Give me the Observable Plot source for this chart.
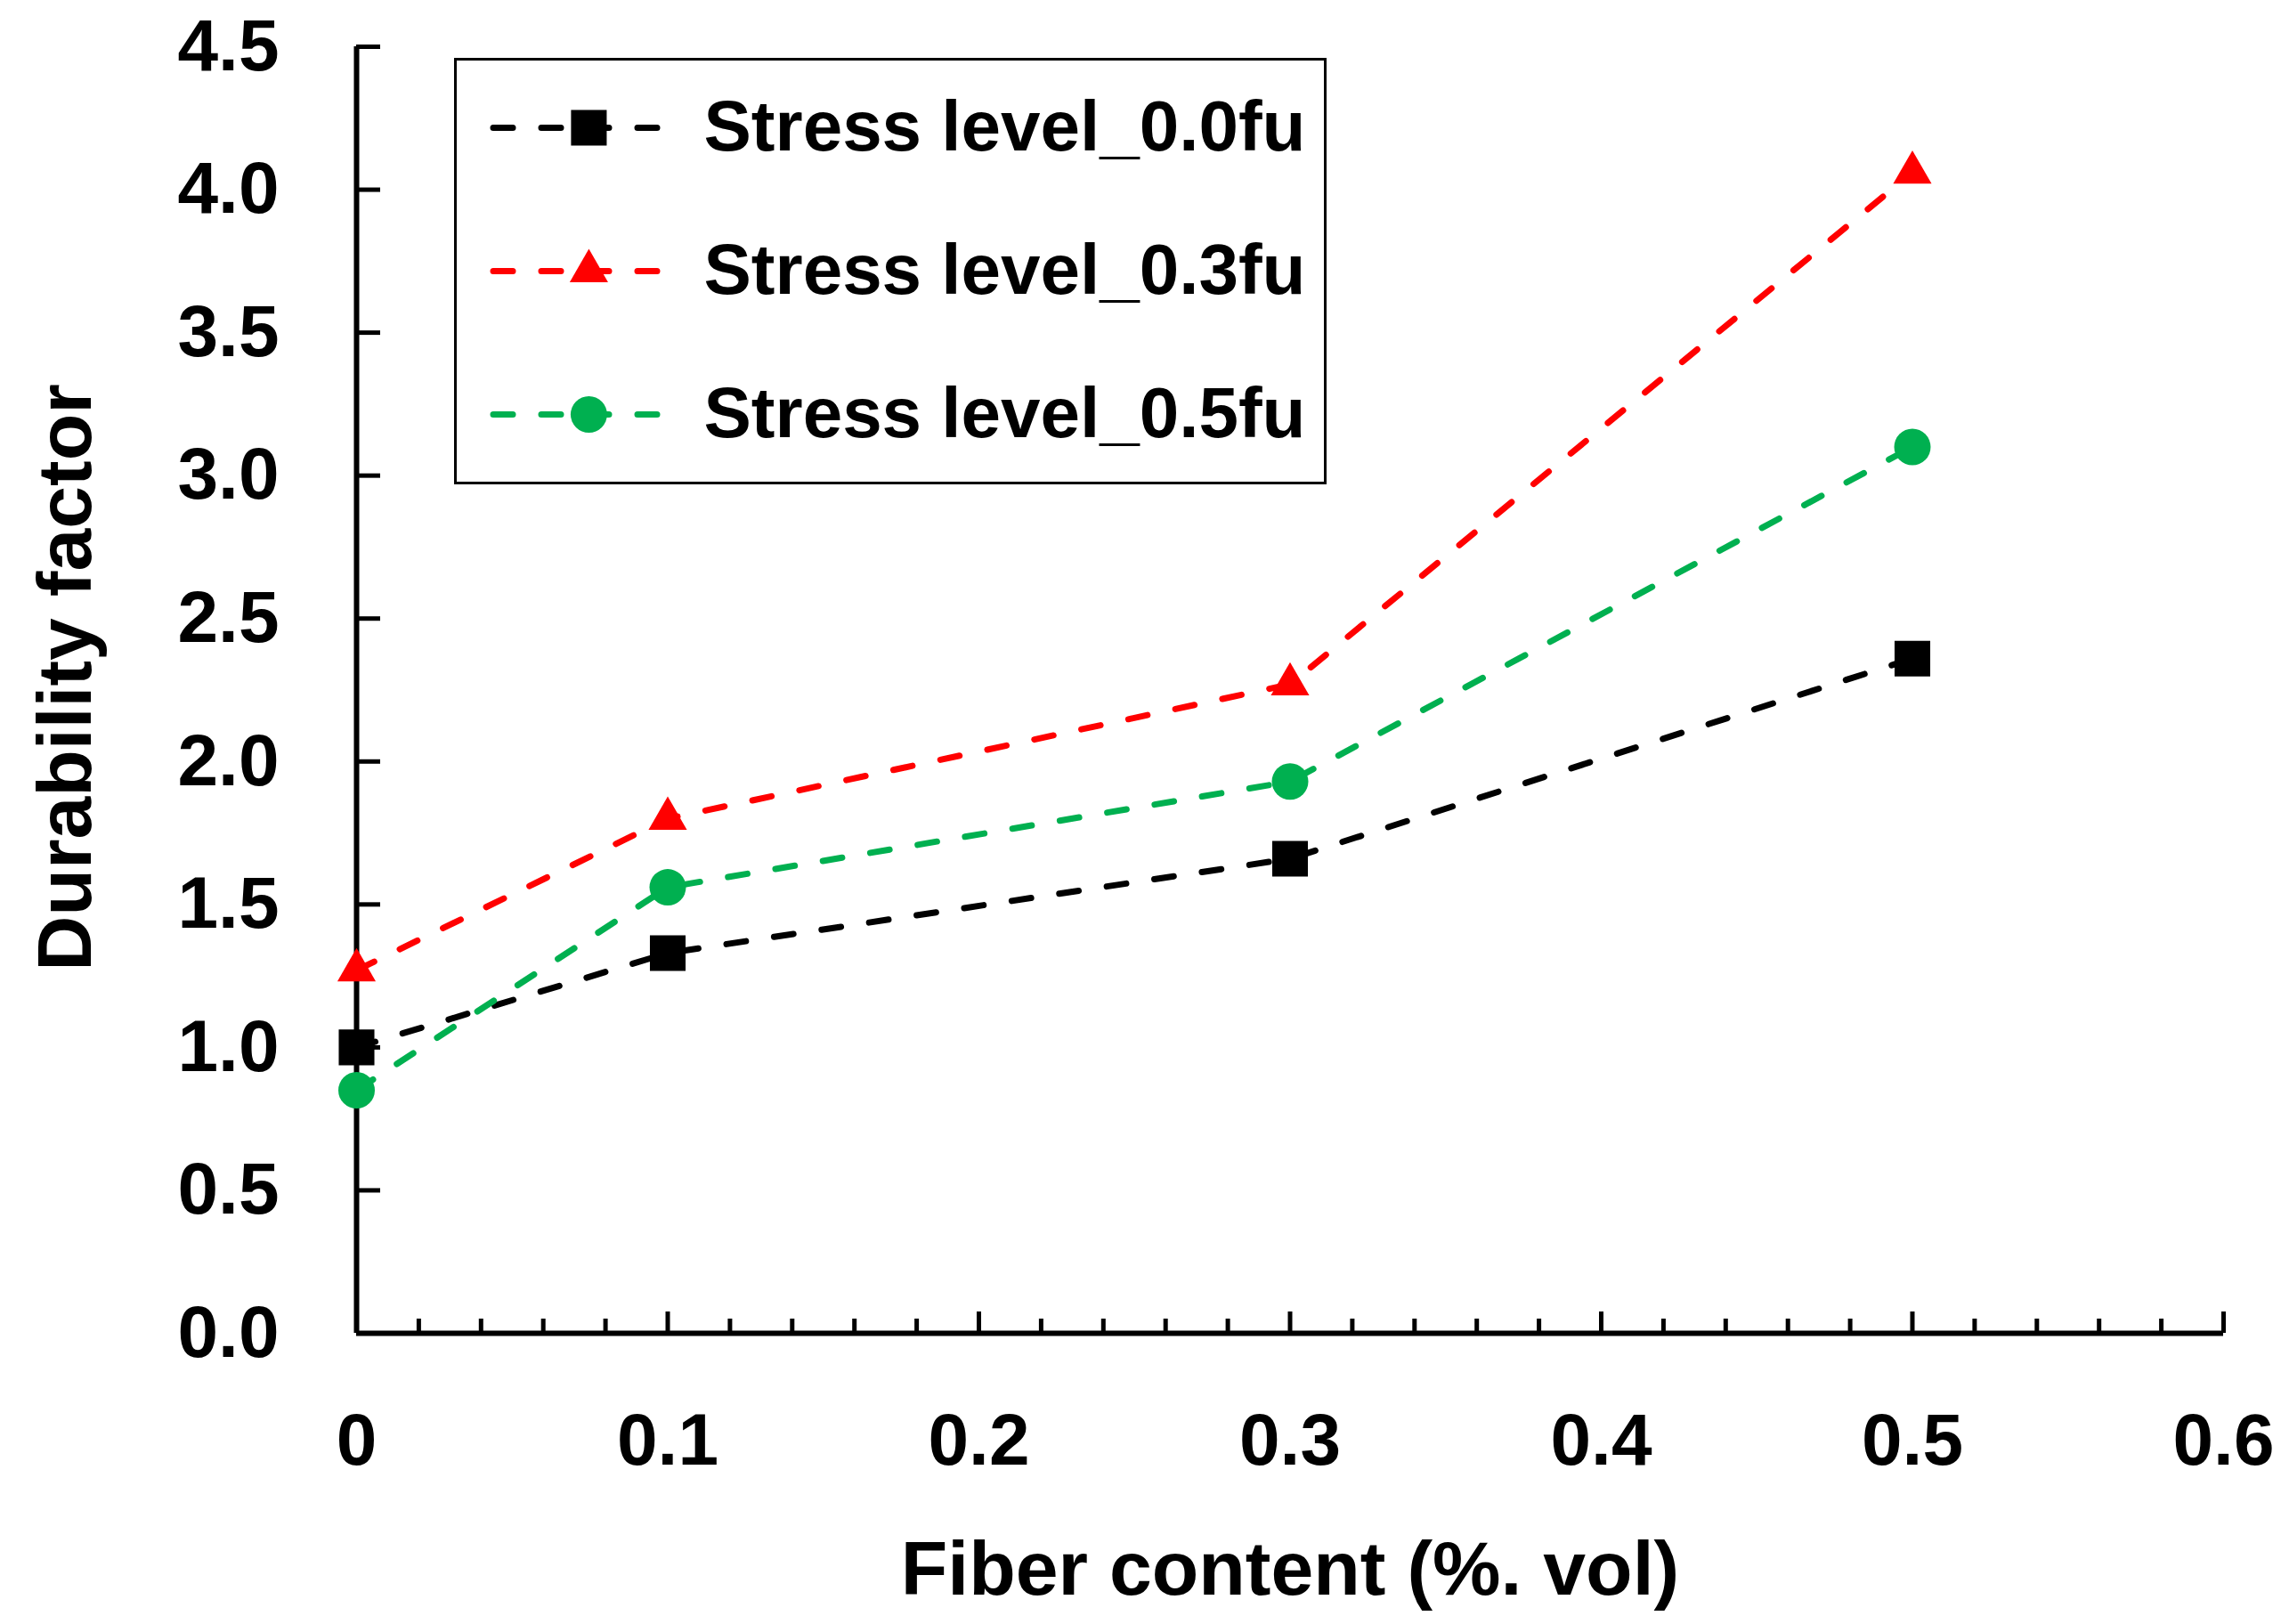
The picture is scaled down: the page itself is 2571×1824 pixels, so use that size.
<!DOCTYPE html>
<html>
<head>
<meta charset="utf-8">
<script src="https://cdn.jsdelivr.net/npm/d3@7"></script>
<script src="https://cdn.jsdelivr.net/npm/@observablehq/plot@0.6"></script>
<style>
  body { margin: 0; background: white; }
  #wrap { position: relative; width: 2571px; height: 1824px; }
  #legend { position: absolute; left: 510px; top: 65px; border: 3px solid black; background: white; line-height: 0; }
</style>
</head>
<body>
<div id="wrap">
  <div id="chart"></div>
  <div id="legend"></div>
</div>
<script>
// values
const fiberContent = [0, 0.1, 0.3, 0.5];
const seriesNames = ["Stress level_0.0fu", "Stress level_0.3fu", "Stress level_0.5fu"];
const stress00 = [1.00, 1.33, 1.66, 2.36];
const stress03 = [1.27, 1.80, 2.27, 4.06];
const stress05 = [0.85, 1.56, 1.93, 3.10];

const yTicks = [0, 0.5, 1, 1.5, 2, 2.5, 3, 3.5, 4, 4.5];
const xTicks = [0, 0.1, 0.2, 0.3, 0.4, 0.5, 0.6];
const xMinor = d3.range(1, 30).filter(i => i % 5 !== 0).map(i => i * 0.02);

const seriesColors = ["#000000", "#FF0000", "#00B050"];
const seriesSymbols = ["square", "triangle", "circle"];
const seriesR = [22.6, 16, 20.5];

const allValues = [stress00, stress03, stress05];
const rows = seriesNames.flatMap((s, k) =>
  fiberContent.map((x, i) => ({series: s, fiber: x, value: allValues[k][i]})));

const font = '"Liberation Sans", Arial, sans-serif';
const dash = "22,32";

const lineMarks = seriesNames.map((s, k) =>
  Plot.line(rows.filter(d => d.series === s), {
    x: "fiber", y: "value",
    stroke: seriesColors[k], strokeWidth: 7,
    strokeDasharray: dash, strokeLinecap: "round"
  })
);
const dotMarks = seriesNames.map((s, k) =>
  Plot.dot(rows.filter(d => d.series === s), {
    x: "fiber", y: "value",
    symbol: seriesSymbols[k], r: seriesR[k],
    fill: seriesColors[k], stroke: "none"
  })
);

const xFormat = d => d === 0 ? "0" : d3.format(".1f")(d);

let chart = Plot.plot({
  width: 2571,
  height: 1824,
  marginLeft: 400,
  marginRight: 74,
  marginTop: 52,
  marginBottom: 327,
  x: {domain: [0, 0.6]},
  y: {domain: [0, 4.5]},
  style: {
    fontFamily: font,
    fontSize: "82px",
    fontWeight: "bold",
    color: "black",
    background: "white",
  },
  marks: [
    // inward ticks
    Plot.axisY(yTicks, {tickSize: -27, strokeWidth: 5, fill: "none", label: null}),
    Plot.axisX(xTicks, {tickSize: -24, strokeWidth: 5, fill: "none", label: null}),
    Plot.axisX(xMinor, {tickSize: -16, strokeWidth: 5, fill: "none", label: null}),
    // tick labels
    Plot.axisY(yTicks, {tickSize: 0, tickPadding: 87, tickFormat: d3.format(".1f"), label: null}),
    Plot.axisX(xTicks, {tickSize: 0, tickPadding: 89, tickFormat: xFormat, label: null}),
    // axis lines
    Plot.ruleX([0], {strokeWidth: 6}),
    Plot.ruleY([0], {strokeWidth: 6}),
    // titles
    Plot.text(["Durability factor"], {frameAnchor: "left", textAnchor: "middle", lineAnchor: "middle",
      rotate: -90, dx: -326, dy: -14, fontSize: 86, fontWeight: "bold"}),
    Plot.text(["Fiber content (%. vol)"], {frameAnchor: "bottom", lineAnchor: "middle",
      dy: 266, fontSize: 86, fontWeight: "bold"}),
    ...lineMarks,
    ...dotMarks,
  ]
});
d3.select('#chart').append(() => chart);

// legend box inside the plot area
let legend = Plot.plot({
  width: 974,
  height: 473,
  margin: 0,
  x: {domain: [0, 1], range: [41, 239], axis: null},
  y: {type: "point", domain: seriesNames, range: [75, 397], padding: 0, axis: null},
  style: {fontFamily: font, fontSize: "80px", fontWeight: "bold", color: "black", background: "white"},
  marks: [
    ...seriesNames.map((s, k) => Plot.ruleY([s], {
      y: d => d, x1: () => 0, x2: () => 1,
      stroke: seriesColors[k], strokeWidth: 7,
      strokeDasharray: dash, strokeLinecap: "round"
    })),
    ...seriesNames.map((s, k) => Plot.dot([s], {
      x: () => 0.54, y: d => d,
      symbol: seriesSymbols[k], r: seriesR[k], fill: seriesColors[k], stroke: "none"
    })),
    Plot.text(seriesNames, {x: () => 1, y: d => d, dx: 38, textAnchor: "start", fontWeight: "bold"})
  ]
});
d3.select('#legend').append(() => legend);
</script>
</body>
</html>
